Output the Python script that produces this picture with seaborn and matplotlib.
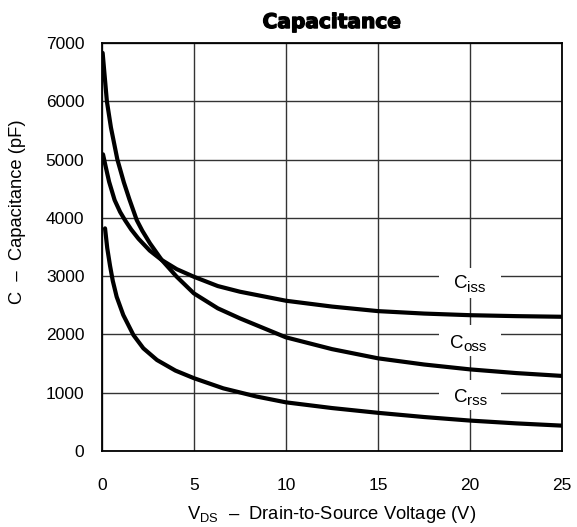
import matplotlib
matplotlib.use("Agg")
import matplotlib.pyplot as plt
import matplotlib.patheffects as pe
from matplotlib.patches import Rectangle
import pandas as pd
import seaborn as sns

# Capacitance vs drain-to-source voltage
ciss_v = [0.07, 0.2, 0.4, 0.7, 1.0, 1.26, 1.6, 2.0, 2.6, 3.26, 4.07, 5.0, 6.3, 7.5,
          10, 12.5, 15, 17.5, 20, 22.5, 25]
ciss_c = [5090, 4900, 4620, 4305, 4100, 3962, 3800, 3640, 3440, 3276, 3120, 2990, 2830, 2733,
          2578, 2478, 2400, 2358, 2330, 2314, 2303]

coss_v = [0.05, 0.28, 0.5, 0.85, 1.2, 1.5, 1.9, 2.2, 2.62, 3.26, 4.07, 5.0, 6.3, 7.5,
          10, 12.5, 15, 17.5, 20, 22.5, 25]
coss_c = [6830, 6000, 5550, 5000, 4610, 4320, 3962, 3780, 3562, 3276, 2990, 2705, 2448, 2276,
          1950, 1748, 1590, 1484, 1400, 1337, 1288]

crss_v = [0.18, 0.3, 0.45, 0.6, 0.81, 1.17, 1.72, 2.26, 3.0, 4.0, 5.0, 6.6, 8.4,
          10, 12.5, 15, 17.5, 20, 22.5, 25]
crss_c = [3820, 3480, 3180, 2920, 2647, 2333, 1990, 1762, 1561, 1380, 1250, 1075, 935,
          835, 737, 655, 583, 522, 474, 435]

curve_names = ["Ciss", "Coss", "Crss"]
curve_subs = ["iss", "oss", "rss"]
# junction between the "C" and its subscript (V, pF, baseline)
label_pos = [(19.83, 2796), (19.64, 1772), (19.83, 846)]
# white boxes that break the grid around each label (centre V, centre pF)
box_pos = [(20.0, 2882), (20.0, 1895), (20.0, 960)]

x_ticks = [0, 5, 10, 15, 20, 25]
y_ticks = [0, 1000, 2000, 3000, 4000, 5000, 6000, 7000]

df = pd.concat([
    pd.DataFrame({"V": ciss_v, "C": ciss_c, "curve": "Ciss"}),
    pd.DataFrame({"V": coss_v, "C": coss_c, "curve": "Coss"}),
    pd.DataFrame({"V": crss_v, "C": crss_c, "curve": "Crss"}),
])

sns.set_theme(style="white")
plt.rcParams["font.family"] = ["Liberation Sans", "DejaVu Sans"]
plt.rcParams["mathtext.fontset"] = "custom"
plt.rcParams["mathtext.rm"] = "Liberation Sans"
plt.rcParams["mathtext.it"] = "Liberation Sans:italic"
plt.rcParams["text.color"] = "black"
plt.rcParams["axes.labelcolor"] = "black"

fig = plt.figure(figsize=(5.77, 5.27), dpi=100)
ax = fig.add_axes([0.1763, 0.1442, 0.7982, 0.7742])

sns.lineplot(data=df, x="V", y="C", hue="curve", hue_order=curve_names,
             palette=["black"] * 3, estimator=None, sort=False,
             legend=False, lw=3.0, ax=ax, zorder=3)
for ln in ax.get_lines():
    ln.set_solid_capstyle("round")
    ln.set_solid_joinstyle("round")

ax.set_xlim(0, 25)
ax.set_ylim(0, 7000)
ax.set_xticks(x_ticks)
ax.set_yticks(y_ticks)
ax.set_xticklabels([str(t) for t in x_ticks])
ax.set_yticklabels([str(t) for t in y_ticks])
ax.tick_params(axis="both", length=0, labelsize=12.5, colors="black")
ax.tick_params(axis="x", pad=19.5)
ax.tick_params(axis="y", pad=12.5)

ax.set_axisbelow(True)
ax.grid(True, color="#333333", lw=1.0)
for s in ax.spines.values():
    s.set_color("black")
    s.set_linewidth(1.3)

box_w, box_h = 3.37, 523
for (bx, by) in box_pos:
    ax.add_patch(Rectangle((bx - box_w / 2, by - box_h / 2), box_w, box_h,
                           fc="white", ec="none", zorder=1))
for (lx, ly), sub in zip(label_pos, curve_subs):
    ax.annotate("C", xy=(lx, ly), xytext=(0, 0), textcoords="offset points",
                ha="right", va="baseline", fontsize=13.5, zorder=4)
    ax.annotate(sub, xy=(lx, ly), xytext=(0, -2.6), textcoords="offset points",
                ha="left", va="baseline", fontsize=11, zorder=4)

ax.set_xlabel(r"V$_{\rm DS}$  –  Drain-to-Source Voltage (V)", fontsize=13.2, labelpad=8)
ax.set_ylabel("C  –  Capacitance (pF)", fontsize=13.2)
ax.yaxis.set_label_coords(-0.165, 0.586)

title = ax.set_title("Capacitance", fontsize=14.5, fontweight="heavy",
                     family="DejaVu Sans", color="black", pad=10.8)
title.set_path_effects([pe.withStroke(linewidth=1.0, foreground="black")])

fig.savefig("out.png", dpi=100)
